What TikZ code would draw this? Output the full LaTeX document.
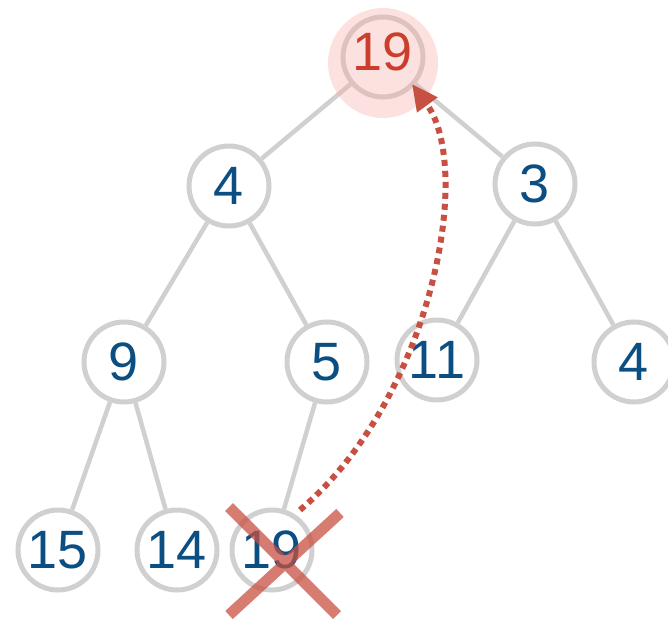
\documentclass[tikz,border=0pt]{standalone}
\usepackage{fontspec}
\setmainfont{Liberation Sans}
\usetikzlibrary{arrows.meta}
\definecolor{heapblue}{RGB}{10,78,130}
\definecolor{heapred}{RGB}{204,62,44}
\definecolor{heapgray}{RGB}{208,208,208}
\definecolor{heappink}{RGB}{246,170,165}
\definecolor{heapcross}{RGB}{200,80,66}

\begin{document}
\begin{tikzpicture}[x=1pt,y=-1pt,
    keynode/.style={circle,draw=heapgray,line width=5pt,fill=white,
      minimum size=80pt,inner sep=0pt,text=heapblue,
      font=\fontsize{54}{60}\selectfont},
    treeedge/.style={heapgray,line width=4.5pt}]
  \useasboundingbox (0,0) rectangle (668,620);
  % heap nodes
  \foreach \name/\x/\y/\val in {root/383/57/{},a/229/186/4,b/535/184/3,
      aa/124/362/9,ab/327/362/5,ba/437/360/11,bb/634/362/4,
      aaa/58/550/15,aab/177/550/14,aba/272/550/19}
    \node[keynode] (\name) at (\x,\y) {\val};
  % tree edges
  \foreach \p/\c in {root/a,root/b,a/aa,a/ab,b/ba,b/bb,aa/aaa,aa/aab,ab/aba}
    \draw[treeedge] (\p) -- (\c);
  % highlight on the root
  \fill[heappink,opacity=0.35] (383,63) circle (55);
  \node[text=heapred,font=\fontsize{54}{60}\selectfont] (rootkey) at (383,52) {19};
  % moved key
  \coordinate (from) at (300,510);
  \coordinate (to) at (412,84);
  \draw[heapcross,line width=6pt,dash pattern=on 6pt off 5pt,
      -{Triangle[length=26pt,width=24pt]}]
    (from) .. controls (430,400) and (475,170) .. (to);
  % cross over the old leaf
  \draw[heapcross,opacity=0.75,line width=11pt]
    (229,507) -- (337,615) (340,513) -- (229,615);
\end{tikzpicture}
\end{document}
